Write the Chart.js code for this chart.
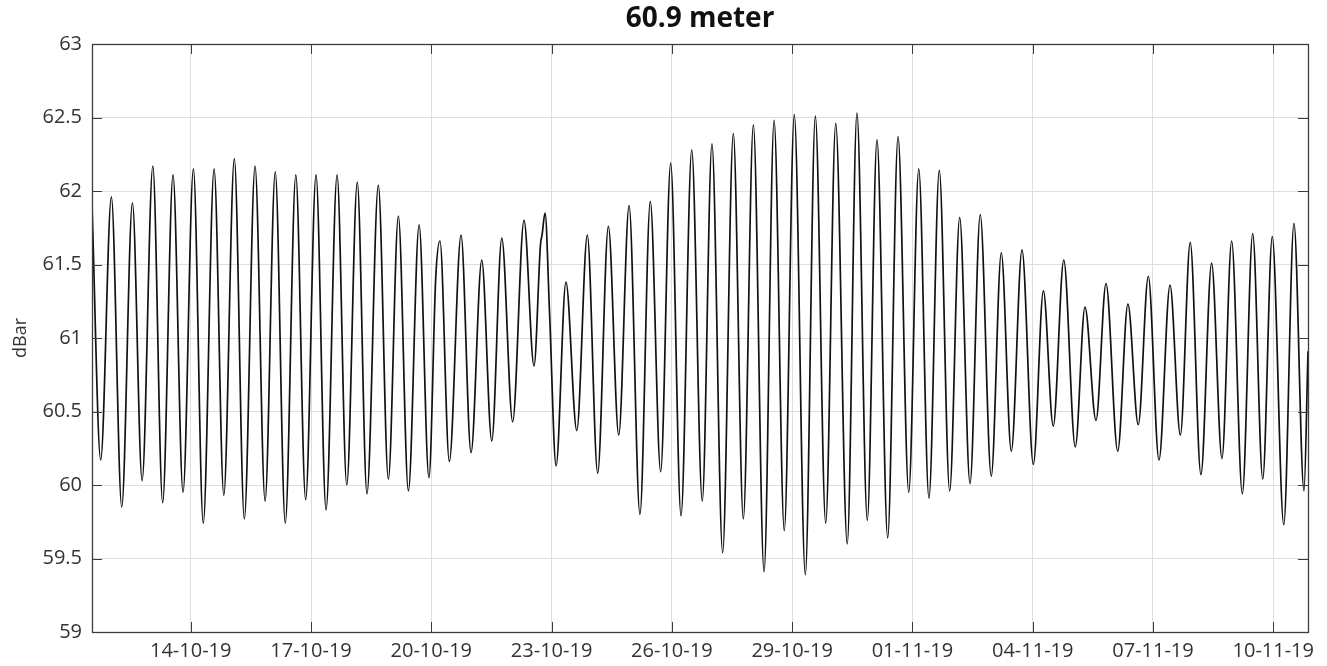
<!DOCTYPE html>
<html>
<head>
<meta charset="utf-8">
<script src="https://cdn.jsdelivr.net/npm/chart.js@4/dist/chart.umd.min.js"></script>
<style>
  html, body { margin: 0; padding: 0; background: #fff; }
  canvas { display: block; }
</style>
</head>
<body>
<canvas id="pressure" width="1327" height="666"></canvas>
<script>
// hours after 11-10-19 00:00, one entry per high / low water turn
const hours = [
  12.9, 18.1, 24.5, 30.7, 37.1, 42.9, 49.3, 55.2, 61.4, 67.4,
  73.6, 79.5, 86.0, 91.8, 98.1, 104.1, 110.5, 116.5, 122.6, 128.6,
  134.9, 140.8, 147.0, 153.0, 159.6, 165.4, 171.7, 177.5, 184.3, 190.3,
  196.3, 202.3, 208.7, 214.6, 218.7, 221.2, 226.8, 233.8, 239.8, 246.2,
  252.2, 258.2, 264.7, 271.5, 277.5, 281.4, 282.3, 284.1, 286.8, 290.7,
  296.6, 303.1, 309.4, 315.6, 322.0, 328.2, 334.4, 340.9, 347.1, 353.3,
  359.3, 365.5, 371.9, 378.2, 384.0, 390.4, 396.8, 402.8, 408.8, 415.2,
  421.2, 427.3, 433.3, 439.9, 445.9, 452.1, 458.1, 465.0, 470.8, 477.0,
  482.8, 489.2, 495.4, 501.8, 507.8, 513.9, 520.1, 526.3, 532.3, 538.5,
  544.6, 551.2, 557.2, 563.2, 569.6, 576.4, 582.4, 588.3, 594.6, 601.5,
  607.3, 613.9, 619.9, 626.9, 633.0, 639.2, 645.2, 651.6, 658.2, 664.4,
  670.3, 676.7, 683.1, 689.3, 695.1, 701.5, 707.7, 713.7, 719.4, 726.3,
  732.4, 738.4, 740.8
];

// pressure at the sensor (dBar)
const dbar = [
  61.90, 60.17, 61.96, 59.85, 61.92, 60.03, 62.17, 59.88, 62.11, 59.95,
  62.15, 59.74, 62.15, 59.93, 62.22, 59.77, 62.17, 59.89, 62.13, 59.74,
  62.11, 59.90, 62.11, 59.83, 62.11, 60.00, 62.06, 59.94, 62.04, 60.04,
  61.83, 59.96, 61.77, 60.05, 61.42, 61.66, 60.16, 61.70, 60.22, 61.53,
  60.30, 61.68, 60.43, 61.80, 60.81, 61.64, 61.70, 61.85, 61.17, 60.13,
  61.38, 60.37, 61.70, 60.08, 61.76, 60.34, 61.90, 59.80, 61.93, 60.09,
  62.19, 59.79, 62.28, 59.89, 62.32, 59.54, 62.39, 59.77, 62.45, 59.41,
  62.48, 59.69, 62.52, 59.39, 62.51, 59.74, 62.46, 59.60, 62.53, 59.76,
  62.35, 59.64, 62.37, 59.95, 62.15, 59.91, 62.14, 59.96, 61.82, 60.01,
  61.84, 60.06, 61.58, 60.23, 61.60, 60.14, 61.32, 60.40, 61.53, 60.26,
  61.21, 60.44, 61.37, 60.23, 61.23, 60.41, 61.42, 60.17, 61.36, 60.34,
  61.65, 60.07, 61.51, 60.18, 61.66, 59.94, 61.71, 60.04, 61.69, 59.73,
  61.78, 59.96, 60.91
];

const tickLabels = ['14-10-19', '17-10-19', '20-10-19', '23-10-19', '26-10-19',
                    '29-10-19', '01-11-19', '04-11-19', '07-11-19', '10-11-19'];
const tickHours = [72, 144, 216, 288, 360, 432, 504, 576, 648, 720];

const FONT = 'Open Sans';
const TITLE = '60.9 meter';

// matlab-like box: frame all round, short inward ticks, title over the axes
const boxFrame = {
  id: 'boxFrame',
  afterDraw(chart) {
    const { ctx, chartArea: a, scales: { x, y } } = chart;
    const len = 10;
    ctx.save();
    ctx.strokeStyle = '#3c3c3c';
    ctx.lineWidth = 1;
    ctx.beginPath();
    x.ticks.forEach(t => {
      const px = Math.round(x.getPixelForValue(t.value)) + 0.5;
      ctx.moveTo(px, a.bottom); ctx.lineTo(px, a.bottom - len);
      ctx.moveTo(px, a.top); ctx.lineTo(px, a.top + len);
    });
    y.ticks.forEach(t => {
      const py = Math.round(y.getPixelForValue(t.value)) + 0.5;
      ctx.moveTo(a.left, py); ctx.lineTo(a.left + len, py);
      ctx.moveTo(a.right, py); ctx.lineTo(a.right - len, py);
    });
    ctx.stroke();
    ctx.lineWidth = 1.3;
    ctx.strokeRect(Math.round(a.left) + 0.5, Math.round(a.top) + 0.5,
                   Math.round(a.right - a.left), Math.round(a.bottom - a.top));

    ctx.fillStyle = '#111';
    ctx.font = `bold 28px "${FONT}"`;
    ctx.textAlign = 'center';
    ctx.textBaseline = 'middle';
    ctx.fillText(TITLE, (a.left + a.right) / 2, 19);
    ctx.restore();
  }
};

new Chart(document.getElementById('pressure'), {
  type: 'line',
  data: {
    datasets: [{
      data: hours.map((h, i) => ({ x: h, y: dbar[i] })),
      borderColor: '#111',
      borderWidth: 1.7,
      pointRadius: 0,
      cubicInterpolationMode: 'monotone',
      fill: false
    }]
  },
  options: {
    responsive: false,
    animation: false,
    devicePixelRatio: 1,
    layout: { padding: { left: 0, right: 19, top: 44, bottom: 0 } },
    plugins: {
      legend: { display: false },
      tooltip: { enabled: false },
      title: { display: false }
    },
    scales: {
      x: {
        type: 'linear',
        min: 12.9,
        max: 740.8,
        afterFit: s => { s.height = 34; },
        afterBuildTicks: s => { s.ticks = tickHours.map(v => ({ value: v })); },
        ticks: {
          autoSkip: false,
          maxRotation: 0,
          padding: 7,
          color: '#333',
          font: { family: FONT, size: 20 },
          callback: (v) => tickLabels[tickHours.indexOf(v)]
        },
        grid: { color: '#dedede', lineWidth: 1, drawTicks: false },
        border: { display: false }
      },
      y: {
        min: 59,
        max: 63,
        afterFit: s => { s.width = 92; },
        ticks: {
          stepSize: 0.5,
          padding: 10,
          color: '#333',
          font: { family: FONT, size: 20 },
          callback: (v) => String(v)
        },
        grid: { color: '#dedede', lineWidth: 1, drawTicks: false },
        border: { display: false },
        title: {
          display: true,
          text: 'dBar',
          color: '#333',
          font: { family: FONT, size: 18, lineHeight: 1 },
          padding: { top: 12, bottom: 0 }
        }
      }
    }
  },
  plugins: [boxFrame]
});
</script>
</body>
</html>
